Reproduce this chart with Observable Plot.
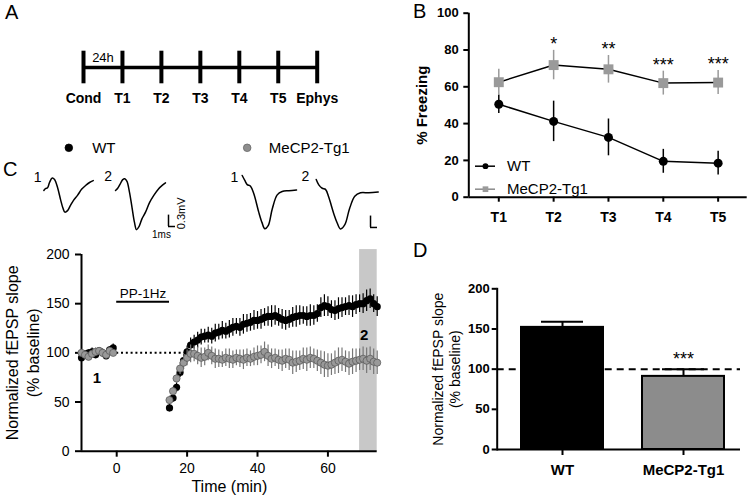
<!DOCTYPE html>
<html><head><meta charset="utf-8">
<script src="https://cdn.jsdelivr.net/npm/d3@7"></script>
<script src="https://cdn.jsdelivr.net/npm/@observablehq/plot@0.6"></script>
<style>
body{margin:0;background:#fff;}
#fig{position:relative;width:749px;height:499px;overflow:hidden;font-family:'Liberation Sans',Arial,sans-serif;background:#fff;}
.letter{position:absolute;font-size:20px;line-height:20px;color:#000;}
#fig svg text{font-family:'Liberation Sans',Arial,sans-serif;}
#fig svg text.cal{font-family:Lato,'Open Sans',sans-serif;}
</style></head><body><div id="fig"></div>
<script>
// ---------- Panel A: schedule ----------
const schedule = ["Cond","T1","T2","T3","T4","T5","Ephys"];
const scheduleDay = [0,1,2,3,4,5,6];
const intervalLabel = "24h";

// ---------- Panel B: freezing ----------
const sessions = [1,2,3,4,5];
const sessionNames = ["T1","T2","T3","T4","T5"];
const freezeWT = [50.5,41.2,32.5,19.5,18.5];
const freezeWTsem = [5,11,10,6.5,6.5];
const freezeTg = [62.5,71.8,69.5,62,62.3];
const freezeTgsem = [7,8,7.5,6.5,6.5];
const freezeStars = ["","*","**","***","***"];
const groups = ["WT","MeCP2-Tg1"];

// ---------- Panel C: example traces (ms, mV) ----------
const traceWT1t = [0,0.24,0.53,0.81,1.2,1.53,1.96,2.39,2.74,3.0,3.39,3.81,4.24,4.81,5.39,5.96,6.53,7.06];
const traceWT1v = [0,0.05,0.07,0.21,0.33,0.29,0.08,-0.24,-0.47,-0.57,-0.53,-0.39,-0.26,-0.13,0.03,0.13,0.21,0.26];
const traceWT2t = [0,0.29,0.64,1.0,1.33,1.64,2.0,2.36,2.71,3.0,3.36,3.79,4.29,4.86,5.47,6.14,6.71,7.14];
const traceWT2v = [0,0.05,0.16,0.28,0.31,0.24,-0.05,-0.45,-0.84,-1.03,-0.95,-0.74,-0.57,-0.32,-0.13,0.04,0.14,0.2];
const traceTg1t = [0,0.37,0.71,1.19,1.66,2.37,2.83,3.23,3.71,4.29,5.0,5.71,6.66,7.76];
const traceTg1v = [0,-0.13,-0.24,-0.28,-0.48,-0.97,-1.24,-1.4,-1.32,-0.88,-0.51,-0.42,-0.40,-0.38];
const traceTg2t = [0,0.37,0.86,1.33,1.8,2.51,2.97,3.47,4.09,4.76,5.51,6.33,7.51,8.86];
const traceTg2v = [0,-0.14,-0.23,-0.26,-0.47,-0.9,-1.13,-1.3,-1.19,-0.77,-0.44,-0.35,-0.35,-0.33];
const scaleBarMs = 1, scaleBarMv = 0.3;

// ---------- Panel C: fEPSP time course ----------
const minutes = [-10,-9,-8,-7,-6,-5,-4,-3,-2,-1,
 15,16,17,18,19,20,21,22,23,24,25,26,27,28,29,30,31,32,33,34,35,36,37,38,39,40,41,42,43,44,
 45,46,47,48,49,50,51,52,53,54,55,56,57,58,59,60,61,62,63,64,65,66,67,68,69,70,71,72,73,74];
const slopeWT = [95,99,100,101,98,102,100,97,103,105,
 44,54,65,80,92,101,108,111,113,116,117,118,117,120,121,123,122,124,126,127,
 126,129,130,131,133,133,134,136,137,137,138,136,134,133,134,136,137,138,138,137,
 138,138,140,146,148,147,144,143,145,146,147,148,147,149,150,150,153,155,150,147];
const semWT = [4,3,3,4,3,3,4,3,3,4,
 4,4,5,5,6,6,7,7,8,8,7,8,8,9,8,9,8,9,9,8,9,10,9,9,10,9,
 10,9,10,11,10,9,10,10,9,10,11,10,9,10,11,10,9,10,11,10,
 9,10,11,10,9,10,11,10,9,10,11,10,9,10];
const slopeTg = [100,98,96,99,101,102,100,98,102,100,
 52,61,74,84,90,95,99,99,97,95,96,100,97,94,94,93,95,94,93,95,
 94,93,95,94,96,97,98,101,97,94,95,93,92,94,93,90,91,92,94,93,
 95,94,92,90,88,87,88,90,92,93,91,89,91,92,93,94,92,94,91,90];
const semTg = [3,4,3,3,4,3,3,4,3,3,
 4,4,5,6,7,8,9,8,9,10,9,8,9,10,9,8,9,10,9,8,9,10,9,8,9,10,
 9,10,11,10,9,10,11,10,11,12,11,10,11,12,11,10,11,12,13,12,
 11,12,13,12,11,12,13,12,11,12,13,12,13,12];
const stimulation = {label:"PP-1Hz", start:0, end:15};
const window2 = {start:69, end:74};
const slopeLabel = ["Normalized fEPSP slope", "(% baseline)"];

// ---------- Panel D: last 5 min ----------
const potentiation = [152, 91];
const potentiationSem = [7, 9];
const potentiationStars = ["", "***"];

// ===================================================
const fig = document.getElementById("fig");
function place(svg, left, top){
  svg.style.position = "absolute";
  svg.style.left = left + "px";
  svg.style.top = top + "px";
  svg.style.background = "transparent";
  svg.style.overflow = "visible";
  svg.style.maxWidth = "none";
  fig.appendChild(svg);
}
function letter(t, left, top){
  const d = document.createElement("div");
  d.className = "letter"; d.textContent = t;
  d.style.left = left + "px"; d.style.top = top + "px";
  fig.appendChild(d);
}
function yLabel(lines, dxs, fontSize){
  return lines.map((s, i) => Plot.text([s], {frameAnchor: "left", textAnchor: "middle", text: d => d, rotate: -90, dx: dxs[i], fontSize, lineAnchor: "middle"}));
}

// ---- Panel A ----
const aPlot = Plot.plot({
  width: 370, height: 130, marginLeft: 83, marginRight: 53.3, marginTop: 50.7, marginBottom: 46.7,
  x: {domain: [0, 6], axis: null}, y: {domain: [-1, 1], axis: null},
  marks: [
    Plot.ruleY([0], {x1: 0, x2: 6, strokeWidth: 3.5}),
    Plot.ruleX(scheduleDay, {x: d => d, y1: -1, y2: 1, strokeWidth: 4}),
    Plot.text(schedule, {x: (d, i) => scheduleDay[i], y: -1, dy: 14.4, text: d => d, fontWeight: "bold", fontSize: 14, lineAnchor: "middle", className: "cal"}),
    Plot.text([intervalLabel], {x: 0.5, y: 0.57, text: d => d, fontSize: 13, lineAnchor: "middle", className: "cal"})
  ]
});
place(aPlot, 0, 0);

// ---- Panel B ----
const bRows = sessions.map((s, i) => ({s, wt: freezeWT[i], wte: freezeWTsem[i], tg: freezeTg[i], tge: freezeTgsem[i], star: freezeStars[i]}));
const bLegend = [{label: "WT", y: 16.85, fill: "black", symbol: "circle", r: 4.5, stroke: "black"},
                 {label: "MeCP2-Tg1", y: 4.35, fill: "#9a9a9a", symbol: "square", r: 5.4, stroke: "#8a8a8a"}];
const bX = [0.453, 5.53];
const bPlot = Plot.plot({
  width: 379, height: 230, marginLeft: 98.3, marginRight: 2.3, marginTop: 12.7, marginBottom: 33.3,
  x: {domain: bX}, y: {domain: [0, 100]},
  marks: [
    Plot.ruleY([0], {strokeWidth: 2}),
    Plot.ruleX([bX[0]], {strokeWidth: 2}),
    Plot.axisY({ticks: [0,20,40,60,80,100], tickSize: 5, tickPadding: 5, fontSize: 13, fontWeight: "bold", label: null, strokeWidth: 2}),
    Plot.axisX({ticks: sessions, tickFormat: d => sessionNames[d - 1], tickSize: 5, tickPadding: 10, fontSize: 14, fontWeight: "bold", label: null, strokeWidth: 2}),
    Plot.text(["% Freezing"], {frameAnchor: "left", textAnchor: "middle", text: d => d, rotate: -90, dx: -46.6, fontSize: 15, fontWeight: "bold", lineAnchor: "middle"}),
    Plot.ruleX(bRows, {x: "s", y1: d => d.wt - d.wte, y2: d => d.wt + d.wte, stroke: "black", strokeWidth: 1.5}),
    Plot.line(bRows, {x: "s", y: "wt", stroke: "black", strokeWidth: 1.5}),
    Plot.dot(bRows, {x: "s", y: "wt", r: 4.5, fill: "black"}),
    Plot.ruleX(bRows, {x: "s", y1: d => d.tg - d.tge, y2: d => d.tg + d.tge, stroke: "#9a9a9a", strokeWidth: 1.5}),
    Plot.line(bRows, {x: "s", y: "tg", stroke: "black", strokeWidth: 1.5}),
    Plot.dot(bRows, {x: "s", y: "tg", r: 5.6, symbol: "square", fill: "#9a9a9a"}),
    Plot.text(bRows, {x: "s", y: d => d.tg + d.tge, text: "star", dy: -6, fontSize: 18, lineAnchor: "middle"}),
    Plot.ruleY(bLegend, {y: "y", x1: 0.575, x2: 0.94, stroke: d => d.stroke, strokeWidth: 1.5}),
    Plot.dot(bLegend, {x: 0.757, y: "y", r: d => d.r, symbol: d => d.symbol, fill: d => d.fill}),
    Plot.text(bLegend, {x: 1.15, y: "y", text: "label", textAnchor: "start", fontSize: 15, lineAnchor: "middle"})
  ]
});
place(bPlot, 370, 0);

// ---- Panel C: traces ----
const traceSet = [
  {id: "WT1", t: traceWT1t, v: traceWT1v, dx: 6.19, dy: -0.447, tag: "1", lx: 5.29, ly: -0.105},
  {id: "WT2", t: traceWT2t, v: traceWT2v, dx: 16.43, dy: -0.447, tag: "2", lx: 15.36, ly: -0.079},
  {id: "Tg1", t: traceTg1t, v: traceTg1v, dx: 34.53, dy: -0.053, tag: "1", lx: 33.43, ly: -0.105},
  {id: "Tg2", t: traceTg2t, v: traceTg2v, dx: 45.1, dy: -0.158, tag: "2", lx: 43.57, ly: -0.079}
];
const tracePts = traceSet.flatMap(tr => tr.t.map((t, i) => ({id: tr.id, t: t + tr.dx, v: tr.v[i] + tr.dy})));
const scaleBars = [{t: 24.0, v: -1.395}, {t: 52.86, v: -1.42}];
const cLegend = [{label: "WT", x: 9.76, tx: 13.1, fill: "black", stroke: "black"},
                 {label: "MeCP2-Tg1", x: 35.24, tx: 38.33, fill: "#8e8e8e", stroke: "#666"}];
const PXMS = 7, PXMV = 38, TH = 100, TW = 390;
const tPlot = Plot.plot({
  width: TW, height: TH, margin: 0,
  x: {domain: [0, TW / PXMS], axis: null}, y: {domain: [1 - TH / PXMV, 1], axis: null},
  marks: [
    Plot.line(tracePts, {x: "t", y: "v", z: "id", stroke: "black", strokeWidth: 1.5, curve: "catmull-rom"}),
    Plot.text(traceSet, {x: "lx", y: "ly", text: "tag", fontSize: 14, lineAnchor: "middle"}),
    Plot.ruleY(scaleBars, {y: "v", x1: "t", x2: d => d.t + scaleBarMs, strokeWidth: 1.5}),
    Plot.ruleX(scaleBars, {x: "t", y1: "v", y2: d => d.v + scaleBarMv, strokeWidth: 1.5}),
    Plot.text(["1ms"], {x: 23, y: -1.605, text: d => d, fontSize: 10, lineAnchor: "middle"}),
    Plot.text(["0.3mV"], {x: 25.86, y: -1.05, text: d => d, fontSize: 11, rotate: -90, lineAnchor: "middle"}),
    Plot.dot(cLegend, {x: "x", y: 0.676, r: 3.8, fill: "fill", stroke: "stroke", strokeWidth: 0.8}),
    Plot.text(cLegend, {x: "tx", y: 0.676, text: "label", textAnchor: "start", fontSize: 15, lineAnchor: "middle"})
  ]
});
place(tPlot, 0, 135);

// ---- Panel C: time course ----
const cRows = minutes.map((m, i) => ({m, wt: slopeWT[i], wte: semWT[i], tg: slopeTg[i], tge: semTg[i]}));
const cPlot = Plot.plot({
  width: 390, height: 259, marginLeft: 81, marginRight: 13.3, marginTop: 14, marginBottom: 48.3,
  x: {domain: [-10, 74]}, y: {domain: [0, 200]},
  marks: [
    Plot.rect([window2], {x1: "start", x2: "end", y1: 0, y2: 205, fill: "#c8c8c8"}),
    Plot.ruleY([100], {x1: 0, x2: 20, strokeDasharray: "2,2.8", strokeWidth: 2}),
    Plot.ruleY([0], {strokeWidth: 2}),
    Plot.ruleX([-10], {strokeWidth: 2}),
    Plot.axisY({ticks: [0,50,100,150,200], tickSize: 6, tickPadding: 6, fontSize: 14, label: null, strokeWidth: 2}),
    Plot.axisX({ticks: [0,20,40,60], tickSize: 6, tickPadding: 6, fontSize: 14, label: null, strokeWidth: 2}),
    ...yLabel(slopeLabel, [-69, -48], 16),
    Plot.text(["Time (min)"], {frameAnchor: "bottom", text: d => d, dy: 36, fontSize: 16, lineAnchor: "middle"}),
    Plot.ruleY([152], {x1: stimulation.start, x2: stimulation.end, strokeWidth: 2}),
    Plot.text([stimulation], {x: d => (d.start + d.end) / 2, y: 160, text: "label", fontSize: 13.5, lineAnchor: "middle"}),
    Plot.ruleX(cRows, {x: "m", y1: d => d.wt - d.wte, y2: d => d.wt + d.wte, stroke: "black", strokeWidth: 1.2}),
    Plot.dot(cRows, {x: "m", y: "wt", r: 3.6, fill: "black"}),
    Plot.ruleX(cRows, {x: "m", y1: d => d.tg - d.tge, y2: d => d.tg + d.tge, stroke: "#777", strokeWidth: 1.2}),
    Plot.dot(cRows, {x: "m", y: "tg", r: 3.6, fill: "#999", stroke: "#555", strokeWidth: 0.7}),
    Plot.text(["1"], {x: -5.6, y: 74, text: d => d, fontSize: 15, fontWeight: "bold", lineAnchor: "middle", className: "cal"}),
    Plot.text(["2"], {x: 70.3, y: 118, text: d => d, fontSize: 15, fontWeight: "bold", lineAnchor: "middle", className: "cal"})
  ]
});
place(cPlot, 0, 240);

// ---- Panel D ----
const dRows = groups.map((g, i) => ({g, v: potentiation[i], e: potentiationSem[i], star: potentiationStars[i]}));
const dPlot = Plot.plot({
  width: 369, height: 269, marginLeft: 116.7, marginRight: 9, marginTop: 58.3, marginBottom: 50,
  x: {domain: groups, range: [116.7, 367.3], paddingInner: 0.326, paddingOuter: 0.197},
  y: {domain: [0, 200]},
  marks: [
    Plot.barY(dRows, {x: "g", y: "v", fill: ["black", "#8c8c8c"], stroke: "black", strokeWidth: 2}),
    Plot.ruleX(dRows, {x: "g", y1: "v", y2: d => d.v + d.e, strokeWidth: 2}),
    Plot.tickY(dRows, {x: "g", y: d => d.v + d.e, strokeWidth: 2, insetLeft: 20, insetRight: 20}),
    Plot.ruleY([100], {strokeDasharray: "7,5", strokeWidth: 2}),
    Plot.ruleY([0], {strokeWidth: 2}),
    Plot.frame({anchor: "left", strokeWidth: 2}),
    Plot.axisY({ticks: [0,50,100,150,200], tickSize: 5, tickPadding: 2.5, fontSize: 13, fontWeight: "bold", label: null, strokeWidth: 2}),
    Plot.axisX({tickSize: 6, tickPadding: 9, fontSize: 15, fontWeight: "bold", label: null, strokeWidth: 2}),
    ...yLabel(slopeLabel, [-58.4, -41.7], 14),
    Plot.text(dRows, {x: "g", y: 117, text: "star", fontSize: 18, lineAnchor: "middle", dy: 4})
  ]
});
place(dPlot, 380, 230);

letter("A", 5, 2.4);
letter("B", 413, 1.4);
letter("C", 3, 159.4);
letter("D", 413, 240.4);
</script></body></html>
